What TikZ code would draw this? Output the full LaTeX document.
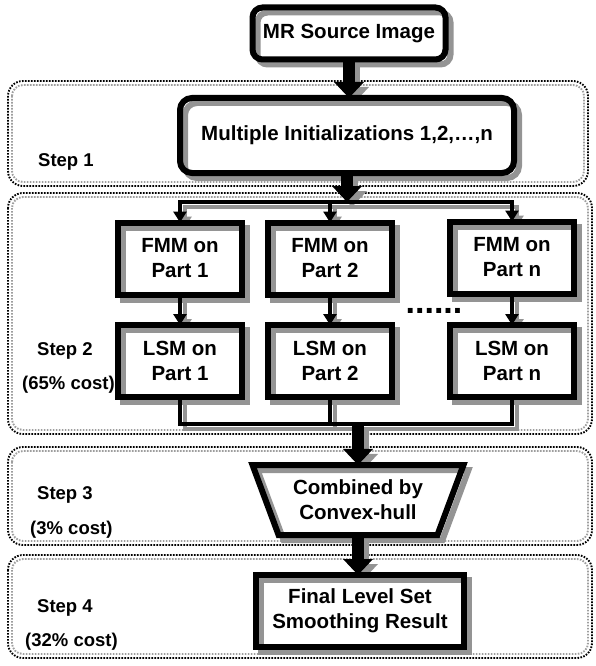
\documentclass[tikz,border=0pt]{standalone}
\usepackage{fontspec}
\setmainfont{Liberation Sans}
\usetikzlibrary{arrows.meta}
\usetikzlibrary{shapes.geometric}
\usetikzlibrary{calc}
\definecolor{castgray}{gray}{0.58}
\definecolor{framegray}{gray}{0.62}
\def\boxfont{\fontsize{20.5}{25}\selectfont\bfseries}
\def\stepfont{\fontsize{18.5}{22}\selectfont\bfseries}
\tikzset{
	box/.style={line width=6pt,outer sep=0pt,inner sep=0pt,align=center,font=\boxfont},
	partbox/.style={box,minimum width=124pt,minimum height=72pt},
	steplabel/.style={anchor=west,inner sep=0pt,font=\stepfont},
	frame/.style={line width=6pt},
	bigarrow/.style={line width=12pt,-{Triangle[width=29pt,length=16pt]}},
	link/.style={line width=4pt},
	linkarrow/.style={link,-{Triangle[width=13pt,length=11pt]}},
	panel/.style={line width=1.9pt,dash pattern=on 1.6pt off 1.4pt,rounded corners=15pt}
}
\def\steppanel(#1)(#2)% Syntax: (top left) (bottom right)
{ \draw[panel,framegray,rounded corners=11pt] ($(#1)+(4,4)$) rectangle ($(#2)+(-4,-4)$);
  \draw[panel] (#1) rectangle (#2); }
\def\frames#1% Syntax: {shift}; draws the box outlines moved by the shift
{ \foreach \b in {fmm1,fmm2,fmmn,lsm1,lsm2,lsmn,final}
	\draw[frame] ([shift={#1}]\b.north west) rectangle ([shift={#1}]\b.south east);
  \draw[frame,rounded corners=10pt] ([shift={#1}]source.north west) rectangle ([shift={#1}]source.south east);
  \draw[frame,rounded corners=12pt] ([shift={#1}]init.north west) rectangle ([shift={#1}]init.south east);
  \draw[frame] ([shift={#1}]hull.bottom left corner) -- ([shift={#1}]hull.bottom right corner)
	-- ([shift={#1}]hull.top right corner) -- ([shift={#1}]hull.top left corner) -- cycle; }
\def\connectors#1% Syntax: {shift}; draws every connector moved by the shift
{ \draw[bigarrow] ([shift={#1}]source.south) -- ([shift={#1}]source.south |- init.north);
  \draw[bigarrow] ([shift={#1}]init.south) -- ([shift={#1}]init.south |- fork);
  \draw[link,line cap=rect] ([shift={#1}]fmm1.north |- fork) -- ([shift={#1}]fmmn.north |- fork);	%split
  \draw[linkarrow] ([shift={#1}]fmm1.north |- fork) -- ([shift={#1}]fmm1.north);
  \draw[linkarrow] ([shift={#1}]fmm2.north |- fork) -- ([shift={#1}]fmm2.north);
  \draw[linkarrow] ([shift={#1}]fmmn.north |- fork) -- ([shift={#1}]fmmn.north);
  \draw[linkarrow] ([shift={#1}]fmm1.south) -- ([shift={#1}]lsm1.north);
  \draw[linkarrow] ([shift={#1}]fmm2.south) -- ([shift={#1}]lsm2.north);
  \draw[linkarrow] ([shift={#1}]fmmn.south) -- ([shift={#1}]lsmn.north);
  \draw[link] ([shift={#1}]lsm1.south) |- ([shift={#1}]lsmn.south |- join) -- ([shift={#1}]lsmn.south);	%merge
  \draw[link] ([shift={#1}]lsm2.south) -- ([shift={#1}]lsm2.south |- join);
  \draw[bigarrow] ([shift={#1}]hull.north |- join) -- ([shift={#1}]hull.north);
  \draw[bigarrow] ([shift={#1}]hull.south) -- ([shift={#1}]hull.south |- final.north); }

\begin{document}
\begin{tikzpicture}[x=1pt,y=-1pt]
	\useasboundingbox (0,0) rectangle (596,666);
	
	%step panels
	\steppanel(8,81)(588,186)
	\steppanel(8,193)(592,434)
	\steppanel(8,447)(592,545)
	\steppanel(8,555)(592,658)
	
	%step labels
	\node[steplabel] (s1) at (38,162) {Step 1};
	\node[steplabel] (s2) at (37,351) {Step 2};
	\node[steplabel] (c2) at (22,385) {(65\% cost)};
	\node[steplabel] (s3) at (37,495) {Step 3};
	\node[steplabel] (c3) at (30,530) {(3\% cost)};
	\node[steplabel] (s4) at (37,608) {Step 4};
	\node[steplabel] (c4) at (25,642) {(32\% cost)};
	
	%boxes
	\node[box,minimum width=193pt,minimum height=52pt] (source) at (349,33.5) {MR Source Image};
	\node[box,minimum width=334pt,minimum height=75pt] (init) at (347,135.5) {Multiple Initializations 1,2,…,n};
	%
	\node[partbox] (fmm1) at (180,258.5) {FMM on\\Part 1};
	\node[partbox] (fmm2) at (330,258.5) {FMM on\\Part 2};
	\node[partbox] (fmmn) at (512,257.5) {FMM on\\Part n};
	\node[partbox] (lsm1) at (180,361) {LSM on\\Part 1};
	\node[partbox] (lsm2) at (330,361) {LSM on\\Part 2};
	\node[partbox] (lsmn) at (512,361) {LSM on\\Part n};
	\node[anchor=base,inner sep=0pt,font=\fontsize{34}{34}\selectfont\bfseries] (dots) at (434,313.5) {......};
	%
	\node[box,trapezium,shape border rotate=180,trapezium angle=62,trapezium stretches=true,
		minimum width=211pt,minimum height=70pt] (hull) at (358,500) {Combined by\\Convex-hull};
	\node[box,minimum width=208pt,minimum height=72pt] (final) at (360,611) {Final Level Set\\Smoothing Result};
	
	%connectors
	\coordinate (fork) at (350,202);
	\coordinate (join) at (357,424);
	
	%gray shadows first, then black outlines and connectors
	\begin{scope}[castgray]
		\frames{(5,5)}
		\connectors{(5,5)}
	\end{scope}
	\frames{(0,0)}
	\connectors{(0,0)}
	
\end{tikzpicture}
\end{document}
